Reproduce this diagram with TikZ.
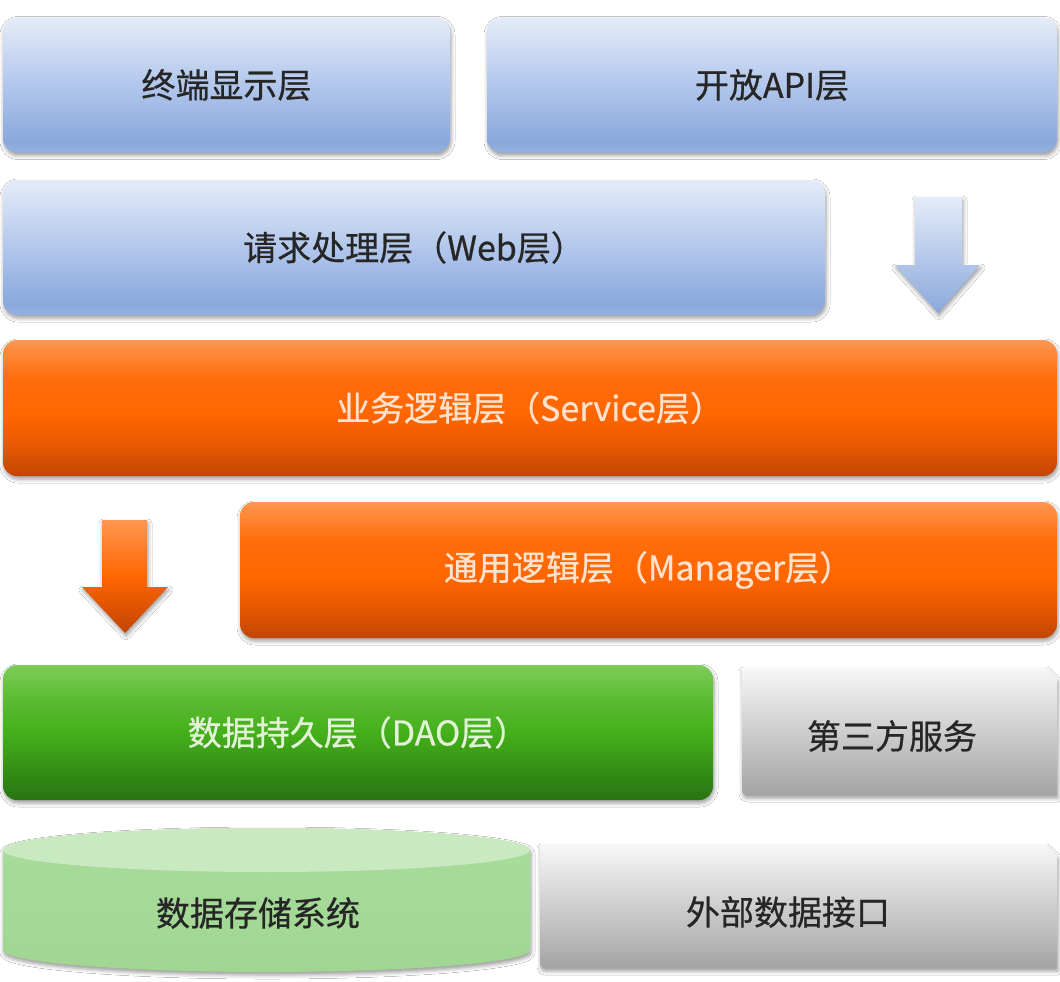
\documentclass[tikz,border=0pt]{standalone}
\usepackage{fontspec}
\setmainfont{Noto Sans CJK SC}[UprightFeatures={FakeBold=0.6}]
\usetikzlibrary{shadows.blur}
\definecolor{bluetop}{HTML}{E4ECF9}
\definecolor{bluemid}{HTML}{ADC3EA}
\definecolor{bluebot}{HTML}{8AA8DC}
\definecolor{orgtop}{HTML}{FF9650}
\definecolor{orgmid}{HTML}{FF6600}
\definecolor{orgbot}{HTML}{C24404}
\definecolor{grntop}{HTML}{7ECC5A}
\definecolor{grnmid}{HTML}{44B01A}
\definecolor{grnbot}{HTML}{287412}
\definecolor{graytop}{HTML}{F7F7F7}
\definecolor{graybot}{HTML}{A4A4A4}
\definecolor{cyltop}{HTML}{C9EAC0}
\definecolor{cylbody}{HTML}{A9DC9C}
\definecolor{cylbot}{HTML}{A0D692}
\definecolor{darktext}{HTML}{262626}
\definecolor{paleorg}{HTML}{FDE3CF}
\definecolor{palegrn}{HTML}{E2F2D6}
\pgfdeclareverticalshading{orangeshade}{100bp}{color(0bp)=(orgbot); color(25bp)=(orgbot); color(36bp)=(orgbot!40!orgmid); color(47.5bp)=(orgmid); color(61bp)=(orgmid!85!orgtop); color(75bp)=(orgtop); color(100bp)=(orgtop)}
\pgfdeclareverticalshading{greenshade}{100bp}{color(0bp)=(grnbot); color(25bp)=(grnbot); color(37.5bp)=(grnbot!50!grnmid); color(50bp)=(grnmid); color(62.5bp)=(grnmid!60!grntop); color(75bp)=(grntop); color(100bp)=(grntop)}
\pgfdeclareverticalshading{blueshade}{100bp}{color(0bp)=(bluebot!85!bluetop); color(25bp)=(bluebot!85!bluetop); color(29bp)=(bluebot); color(47.5bp)=(bluemid); color(75bp)=(bluetop); color(100bp)=(bluetop)}
\tikzset{
  shad/.style={blur shadow={shadow xshift=1pt, shadow yshift=-3pt, shadow blur radius=4pt, shadow opacity=40}},
  layer/.style={rectangle, rounded corners=14pt, shad, inner sep=0pt, font=\fontsize{34}{40}\selectfont},
  bluebox/.style={layer, shade, shading=blueshade, text=darktext},
  orangebox/.style={layer, shade, shading=orangeshade, text=paleorg},
  greenbox/.style={layer, shade, shading=greenshade, text=palegrn},
  graybox/.style={shad, top color=graytop, bottom color=graybot},
  label/.style={inner sep=0pt, font=\fontsize{34}{40}\selectfont, text=darktext},
}
\begin{document}
\begin{tikzpicture}[x=1pt,y=-1pt]
\useasboundingbox[fill=white] (0,0) rectangle (1060,982);

% top row
\node[bluebox, minimum width=447pt, minimum height=135pt] (term) at (226.5,85) {终端显示层};
\node[bluebox, minimum width=570pt, minimum height=135pt] (api) at (772,85) {开放API层};

% web layer
\node[bluebox, minimum width=822pt, minimum height=135pt] (web) at (414,247.5) {请求处理层（Web层）};

% blue down arrow
\shade[top color=bluetop, bottom color=bluebot, shad]
  (915,197) -- (962,197) -- (962,265) -- (980,265) -- (938,313) -- (895,265) -- (915,265) -- cycle;

% service layer
\node[orangebox, minimum width=1054pt, minimum height=136pt] (service) at (530,408) {业务逻辑层（Service层）};

% orange down arrow
\shade[top color=orgtop, bottom color=orgbot, middle color=orgmid, shad]
  (102,520) -- (147,520) -- (147,587) -- (168,587) -- (125,633) -- (82,587) -- (102,587) -- cycle;

% manager layer
\node[orangebox, minimum width=817pt, minimum height=136pt] (manager) at (648.5,570) {通用逻辑层（Manager层）};

% DAO layer
\node[greenbox, minimum width=710pt, minimum height=135pt] (dao) at (358,732.5) {数据持久层（DAO层）};

% third-party service
\shade[graybox] (742,668) -- (1046,668) -- (1057,679) -- (1057,795) -- (746,795) to[out=180,in=270] (742,791) -- cycle;
\node[label] (third) at (892,736) {第三方服务};

% data storage cylinder
\shade[top color=cylbody, bottom color=cylbot, shad]
  (3,850) -- (3,950) arc[start angle=180, end angle=360, x radius=263.5pt, y radius=22pt]
  -- (530,850) arc[start angle=0, end angle=180, x radius=263.5pt, y radius=22pt] -- cycle;
\fill[cyltop] (266.5,850) ellipse[x radius=263.5pt, y radius=22pt];
\node[label] (store) at (258,913) {数据存储系统};

% external data interface
\shade[graybox] (540,845) -- (1046,845) -- (1057,856) -- (1057,968) -- (544,968) to[out=180,in=270] (540,964) -- cycle;
\node[label] (ext) at (788,912) {外部数据接口};
\end{tikzpicture}
\end{document}
